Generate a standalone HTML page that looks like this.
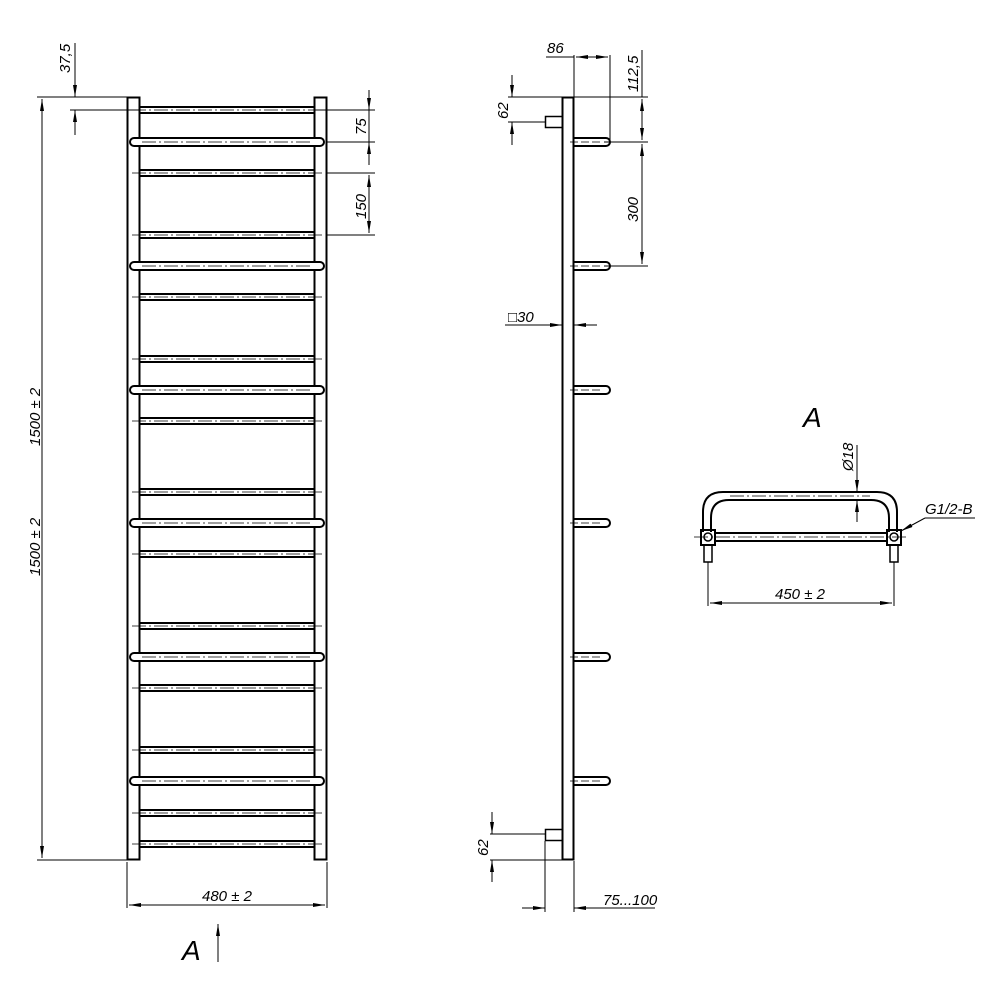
<!DOCTYPE html>
<html><head><meta charset="utf-8"><style>
html,body{margin:0;padding:0;background:#fff}
svg{display:block}
text{font-family:"Liberation Sans",sans-serif;font-style:italic;font-size:15px;fill:#000}
</style></head><body>
<svg id="s" width="1000" height="1000" viewBox="0 0 1000 1000" xmlns="http://www.w3.org/2000/svg">
<defs>
<marker id="a" viewBox="0 0 12 4" refX="12" refY="2" markerWidth="12" markerHeight="4" orient="auto-start-reverse" markerUnits="userSpaceOnUse"><path d="M0,0L12,2L0,4z" fill="#000"/></marker>
</defs>
<g id="g" fill="none" stroke="#000" stroke-width="1">
<rect x="127.5" y="97.5" width="12" height="762" stroke-width="2"/>
<rect x="314.5" y="97.5" width="12" height="762" stroke-width="2"/>
<rect x="562.5" y="97.5" width="11" height="762" stroke-width="2"/>
<rect x="545.5" y="116.5" width="17" height="11" stroke-width="1.5"/>
<rect x="545.5" y="829.5" width="17" height="11" stroke-width="1.5"/>
<path d="M703,532 V512 Q703,492 723,492 H877 Q897,492 897,512 V532" stroke-width="2"/>
<path d="M711,532 V518 Q711,500 729,500 H871 Q889,500 889,518 V532" stroke-width="2"/>
<line x1="715" y1="533" x2="887" y2="533" stroke-width="2"/>
<line x1="715" y1="541" x2="887" y2="541" stroke-width="2"/>
<line x1="694" y1="537" x2="908" y2="537" stroke-dasharray="14,3,2,3" stroke-width="0.8"/>
<line x1="730" y1="496" x2="870" y2="496" stroke-dasharray="14,3,2,3" stroke-width="0.8"/>
<rect x="701" y="530" width="14" height="15" stroke-width="2"/>
<rect x="887" y="530" width="14" height="15" stroke-width="2"/>
<circle cx="708" cy="537" r="4" stroke-width="1.5"/>
<circle cx="894" cy="537" r="4" stroke-width="1.5"/>
<rect x="704" y="545" width="8" height="17" stroke-width="1.5"/>
<rect x="890" y="545" width="8" height="17" stroke-width="1.5"/>
<line x1="37" y1="97" x2="127" y2="97"/>
<line x1="42" y1="99" x2="42" y2="858" marker-start="url(#a)" marker-end="url(#a)"/>
<line x1="37" y1="860" x2="127" y2="860"/>
<line x1="75" y1="43" x2="75" y2="97" marker-end="url(#a)"/>
<line x1="75" y1="135" x2="75" y2="110" marker-end="url(#a)"/>
<line x1="70" y1="110" x2="140" y2="110"/>
<line x1="314" y1="110" x2="375" y2="110"/>
<line x1="327" y1="142" x2="375" y2="142"/>
<line x1="327" y1="173" x2="375" y2="173"/>
<line x1="327" y1="235" x2="375" y2="235"/>
<line x1="369" y1="90" x2="369" y2="110" marker-end="url(#a)"/>
<line x1="369" y1="165" x2="369" y2="142" marker-end="url(#a)"/>
<line x1="369" y1="110" x2="369" y2="142"/>
<line x1="369" y1="175" x2="369" y2="233" marker-start="url(#a)" marker-end="url(#a)"/>
<line x1="127" y1="862" x2="127" y2="908"/>
<line x1="327" y1="862" x2="327" y2="908"/>
<line x1="129" y1="905" x2="325" y2="905" marker-start="url(#a)" marker-end="url(#a)"/>
<line x1="218" y1="962" x2="218" y2="924" marker-end="url(#a)"/>
<line x1="574" y1="55" x2="574" y2="97"/>
<line x1="610" y1="55" x2="610" y2="140"/>
<line x1="546" y1="57" x2="574" y2="57"/>
<line x1="576" y1="57" x2="608" y2="57" marker-start="url(#a)" marker-end="url(#a)"/>
<line x1="574" y1="97" x2="648" y2="97"/>
<line x1="604" y1="142" x2="648" y2="142"/>
<line x1="604" y1="266" x2="648" y2="266"/>
<line x1="642" y1="50" x2="642" y2="97"/>
<line x1="642" y1="99" x2="642" y2="140" marker-start="url(#a)" marker-end="url(#a)"/>
<line x1="642" y1="144" x2="642" y2="264" marker-start="url(#a)" marker-end="url(#a)"/>
<line x1="508" y1="97" x2="562" y2="97"/>
<line x1="508" y1="122" x2="545" y2="122"/>
<line x1="512" y1="75" x2="512" y2="97" marker-end="url(#a)"/>
<line x1="512" y1="145" x2="512" y2="122" marker-end="url(#a)"/>
<line x1="505" y1="325" x2="562" y2="325" marker-end="url(#a)"/>
<line x1="597" y1="325" x2="574" y2="325" marker-end="url(#a)"/>
<line x1="490" y1="834" x2="545" y2="834"/>
<line x1="490" y1="860" x2="562" y2="860"/>
<line x1="492" y1="812" x2="492" y2="834" marker-end="url(#a)"/>
<line x1="492" y1="882" x2="492" y2="860" marker-end="url(#a)"/>
<line x1="545" y1="841" x2="545" y2="912"/>
<line x1="574" y1="861" x2="574" y2="912"/>
<line x1="522" y1="908" x2="545" y2="908" marker-end="url(#a)"/>
<line x1="597" y1="908" x2="574" y2="908" marker-end="url(#a)"/>
<line x1="574" y1="908" x2="655" y2="908"/>
<line x1="857" y1="445" x2="857" y2="492" marker-end="url(#a)"/>
<line x1="857" y1="522" x2="857" y2="500" marker-end="url(#a)"/>
<line x1="708" y1="562" x2="708" y2="606"/>
<line x1="894" y1="562" x2="894" y2="606"/>
<line x1="710" y1="603" x2="892" y2="603" marker-start="url(#a)" marker-end="url(#a)"/>
<line x1="925" y1="518" x2="901" y2="531" marker-end="url(#a)"/>
<line x1="925" y1="518" x2="975" y2="518"/>
</g>
<text transform="translate(70,73) rotate(-90)">37,5</text>
<text transform="translate(366,135) rotate(-90)">75</text>
<text transform="translate(366,219) rotate(-90)">150</text>
<text transform="translate(40,446) rotate(-90)">1500 ± 2</text>
<text transform="translate(40,576) rotate(-90)">1500 ± 2</text>
<text x="202" y="901">480 ± 2</text>
<text x="182" y="960" style="font-size:28px">A</text>
<text x="547" y="53">86</text>
<text transform="translate(638,92) rotate(-90)">112,5</text>
<text transform="translate(638,222) rotate(-90)">300</text>
<text transform="translate(508,119) rotate(-90)">62</text>
<text x="508" y="322">□30</text>
<text transform="translate(488,856) rotate(-90)">62</text>
<text x="603" y="905">75...100</text>
<text x="803" y="427" style="font-size:28px">A</text>
<text transform="translate(853,471) rotate(-90)">Ø18</text>
<text x="925" y="514">G1/2-B</text>
<text x="775" y="599">450 ± 2</text>
</svg>
<script>
var g=document.getElementById('g'),N='http://www.w3.org/2000/svg';
function el(t,a){var e=document.createElementNS(N,t);for(var k in a)e.setAttribute(k,a[k]);g.appendChild(e);}
[110,173,235,297,359,421,492,554,626,688,750,813,844].forEach(function(c){
 el('line',{x1:140,y1:c-3,x2:314,y2:c-3,'stroke-width':2});
 el('line',{x1:140,y1:c+3,x2:314,y2:c+3,'stroke-width':2});
 el('line',{x1:132,y1:c,x2:322,y2:c,'stroke-dasharray':'14,3,2,3','stroke-width':0.8});
});
[142,266,390,523,657,781].forEach(function(c){
 el('rect',{x:130,y:c-4,width:194,height:8,rx:4,'stroke-width':2,fill:'#fff'});
 el('line',{x1:142,y1:c,x2:312,y2:c,'stroke-dasharray':'14,3,2,3','stroke-width':0.8});
 el('path',{d:'M574,'+(c-4)+' H606 A4,4 0 0 1 606,'+(c+4)+' H574','stroke-width':2});
 el('line',{x1:570,y1:c,x2:600,y2:c,'stroke-dasharray':'8,3','stroke-width':0.8});
});
</script>
</body></html>
